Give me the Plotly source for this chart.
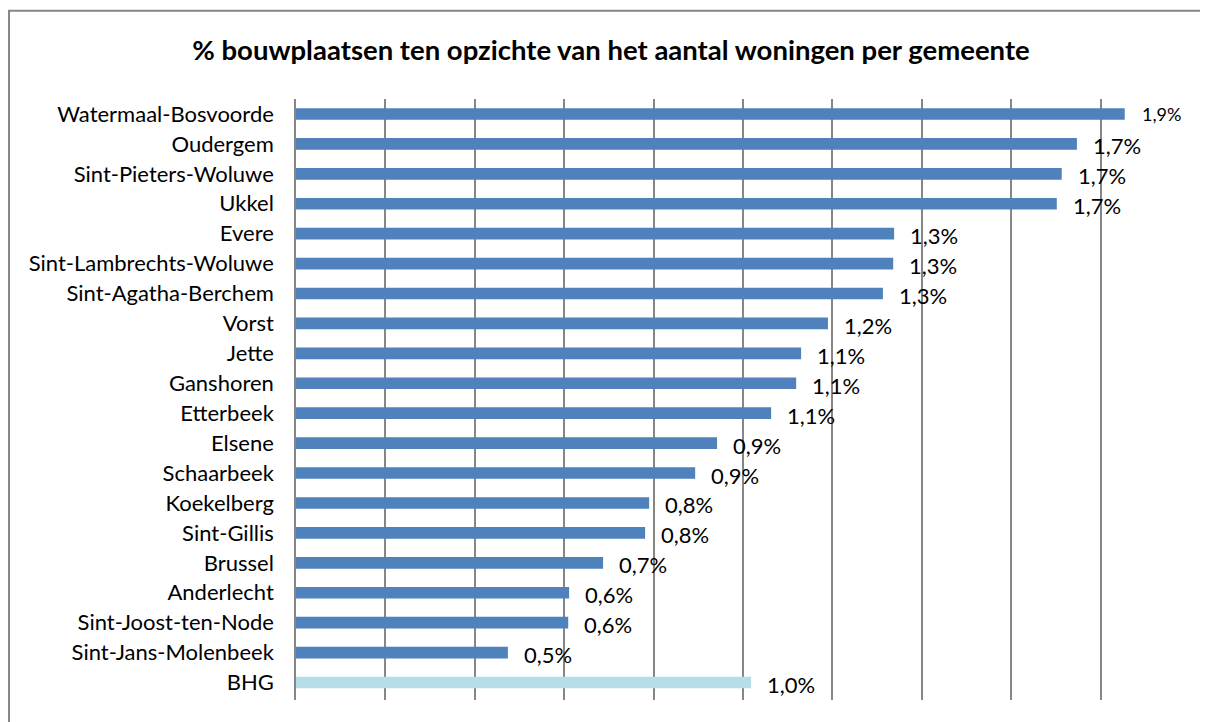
"""Bar chart: % bouwplaatsen ten opzichte van het aantal woningen per gemeente"""
import plotly.graph_objects as go

# Data (top to bottom as shown)
gemeenten = [
    'Watermaal-Bosvoorde', 'Oudergem', 'Sint-Pieters-Woluwe', 'Ukkel', 'Evere',
    'Sint-Lambrechts-Woluwe', 'Sint-Agatha-Berchem', 'Vorst', 'Jette', 'Ganshoren',
    'Etterbeek', 'Elsene', 'Schaarbeek', 'Koekelberg', 'Sint-Gillis', 'Brussel',
    'Anderlecht', 'Sint-Joost-ten-Node', 'Sint-Jans-Molenbeek', 'BHG'
]
waarden = [
    0.01854, 0.01747, 0.01713, 0.01702, 0.01338,
    0.01336, 0.01313, 0.01190, 0.01130, 0.01119,
    0.01063, 0.00942, 0.00893, 0.00790, 0.00781, 0.00687,
    0.00611, 0.00609, 0.00474, 0.01018
]
labels = [
    '1,9%', '1,7%', '1,7%', '1,7%', '1,3%',
    '1,3%', '1,3%', '1,2%', '1,1%', '1,1%',
    '1,1%', '0,9%', '0,9%', '0,8%', '0,8%', '0,7%',
    '0,6%', '0,6%', '0,5%', '1,0%'
]

FONT = 'Lato, Carlito, Calibri, sans-serif'
colors = ['#4F81BD'] * (len(gemeenten) - 1) + ['#B7DDE8']

fig = go.Figure()

fig.add_trace(go.Bar(
    x=waarden,
    y=gemeenten,
    orientation='h',
    width=0.39,
    marker=dict(color=colors, line=dict(width=0)),
    hoverinfo='x+y'
))

# Data labels placed just past the bar ends
for i, (g, v, t) in enumerate(zip(gemeenten, waarden, labels)):
    fig.add_annotation(
        x=v, y=g, text=t, showarrow=False,
        xanchor='left', xshift=14 if i else 15,
        yshift=-2 if i else 0,
        font=dict(family=FONT, size=22 if i else 18, color='black')
    )

# Outer chart frame
fig.add_shape(
    type='rect', xref='paper', yref='paper',
    x0=-0.321, x1=1.1, y0=-0.2, y1=1.147,
    line=dict(color='#868686', width=2), layer='below'
)

# page body adds 8px margin, so the figure is 8px smaller than the window
fig.update_layout(
    width=1200,
    height=714,
    margin=dict(l=288, r=18, t=91, b=22),
    paper_bgcolor='white',
    plot_bgcolor='white',
    showlegend=False,
    bargap=0.6,
    title=dict(
        text='<b>% bouwplaatsen ten opzichte van het aantal woningen per gemeente</b>',
        x=0.5025, xanchor='center', y=0.941, yanchor='middle',
        font=dict(family=FONT, size=27.5, color='black')
    ),
    font=dict(family=FONT, size=22, color='black')
)

fig.update_xaxes(
    range=[0, 0.02],
    dtick=0.002,
    showgrid=True,
    gridcolor='#868686',
    gridwidth=1.5,
    showticklabels=False,
    zeroline=False,
    showline=False
)

fig.update_yaxes(
    categoryorder='array',
    categoryarray=gemeenten[::-1],
    showline=True,
    linecolor='#868686',
    linewidth=1.5,
    ticks='',
    ticklabelstandoff=16,
    tickfont=dict(family=FONT, size=22, color='black'),
    showgrid=False
)

fig.write_html("out.html")
